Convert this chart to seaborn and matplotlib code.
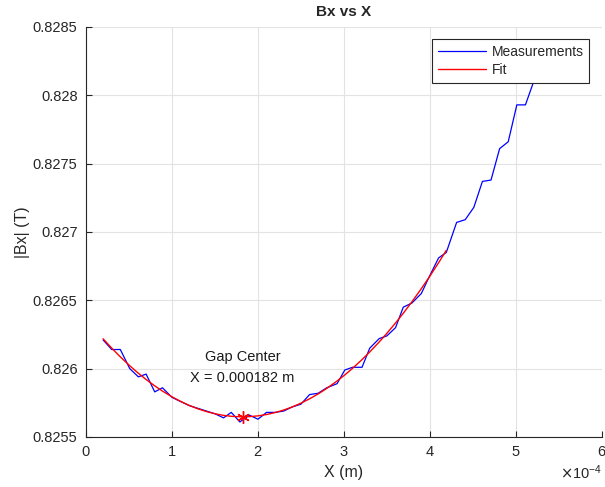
import numpy as np
import matplotlib
matplotlib.use('Agg')
import matplotlib.pyplot as plt
import matplotlib.ticker as mticker
import seaborn as sns

# measured field along x (x in units of 1e-4 m)
x_meas = [0.20, 0.30, 0.40, 0.51, 0.61, 0.70, 0.80, 0.89, 1.00, 1.10,
          1.20, 1.30, 1.40, 1.50, 1.60, 1.69, 1.79, 1.90, 2.00, 2.10,
          2.20, 2.30, 2.40, 2.50, 2.60, 2.70, 2.80, 2.92, 3.01, 3.10,
          3.21, 3.30, 3.41, 3.50, 3.60, 3.69, 3.79, 3.90, 3.99, 4.10,
          4.19, 4.31, 4.41, 4.51, 4.61, 4.71, 4.81, 4.91, 5.01, 5.11,
          5.20, 5.30]
bx_meas = [0.82621, 0.82614, 0.82614, 0.82600, 0.82594, 0.82596, 0.82583, 0.82586, 0.82579, 0.82576,
           0.82573, 0.82571, 0.82569, 0.82567, 0.82564, 0.82568, 0.82561, 0.82566, 0.82563, 0.82568,
           0.82568, 0.82569, 0.82572, 0.82574, 0.82581, 0.82582, 0.82586, 0.82589, 0.82599, 0.82601,
           0.82601, 0.82615, 0.82622, 0.82624, 0.82630, 0.82645, 0.82648, 0.82655, 0.82667, 0.82681,
           0.82685, 0.82707, 0.82709, 0.82718, 0.82737, 0.82738, 0.82761, 0.82766, 0.82793, 0.82793,
           0.82809, 0.82828]
fit_xmax = 4.19
gap_center_label = 'Gap Center\nX = 0.000182 m'

sns.set_style("whitegrid")
plt.rcParams['font.family'] = ['Liberation Sans', 'DejaVu Sans']

x = np.array(x_meas) * 1e-4
y = np.array(bx_meas)

# quadratic fit over the central region
mask = x <= fit_xmax * 1e-4 + 1e-9
coef = np.polyfit(x[mask] * 1e4, y[mask], 2)
x_fit = x[mask]
y_fit = np.polyval(coef, x_fit * 1e4)
x_c = -coef[1] / (2 * coef[0])
y_c = np.polyval(coef, x_c)

fig = plt.figure(figsize=(6.05, 4.87), dpi=100)
ax = fig.add_axes([0.142, 0.1027, 0.853, 0.8419])

sns.lineplot(x=x, y=y, color='#0000ff', lw=0.9, label='Measurements', ax=ax)
sns.lineplot(x=x_fit, y=y_fit, color='#ff0000', lw=1.0, label='Fit', ax=ax)
ax.plot(x_c * 1e-4, y_c, marker=(6, 2, 0), color='#ff0000', ms=9, mew=1.0, ls='none')
ax.text(x_c * 1e-4, 0.82601, gap_center_label, ha='center', va='center',
        fontsize=10.5, linespacing=1.6, color='#1a1a1a')

ax.set_xlim(0, 6e-4)
ax.set_ylim(0.8255, 0.8285)
ax.xaxis.set_major_locator(mticker.MultipleLocator(1e-4))
ax.ticklabel_format(style='sci', axis='x', scilimits=(0, 0), useMathText=True)
ax.yaxis.set_major_locator(mticker.MultipleLocator(0.0005))
ax.yaxis.set_major_formatter(mticker.FuncFormatter(lambda v, p: '%g' % round(v, 5)))
ax.xaxis.get_offset_text().set_fontsize(10.5)

ax.grid(True, color='#e3e3e3', lw=0.8)
for s in ['top', 'right']:
    ax.spines[s].set_visible(False)
for s in ['left', 'bottom']:
    ax.spines[s].set_color('#262626')
    ax.spines[s].set_linewidth(0.8)
ax.tick_params(direction='in', length=4, width=0.8, color='#262626',
               labelsize=10.5, labelcolor='#262626', pad=6, left=True, bottom=True)

ax.set_title('Bx vs X', fontsize=11, fontweight='bold', pad=8)
ax.set_xlabel('X (m)', fontsize=11.5, color='#262626', labelpad=4)
ax.set_ylabel('|Bx| (T)', fontsize=11.5, color='#262626', labelpad=2)

leg = ax.legend(loc='upper right', fontsize=10, frameon=True, fancybox=False,
                framealpha=1, edgecolor='#262626', handlelength=3.5,
                borderaxespad=0.9, borderpad=0.4, labelspacing=0.3, handletextpad=0.4)
leg.get_frame().set_linewidth(0.8)

plt.savefig('out.png', dpi=100)
